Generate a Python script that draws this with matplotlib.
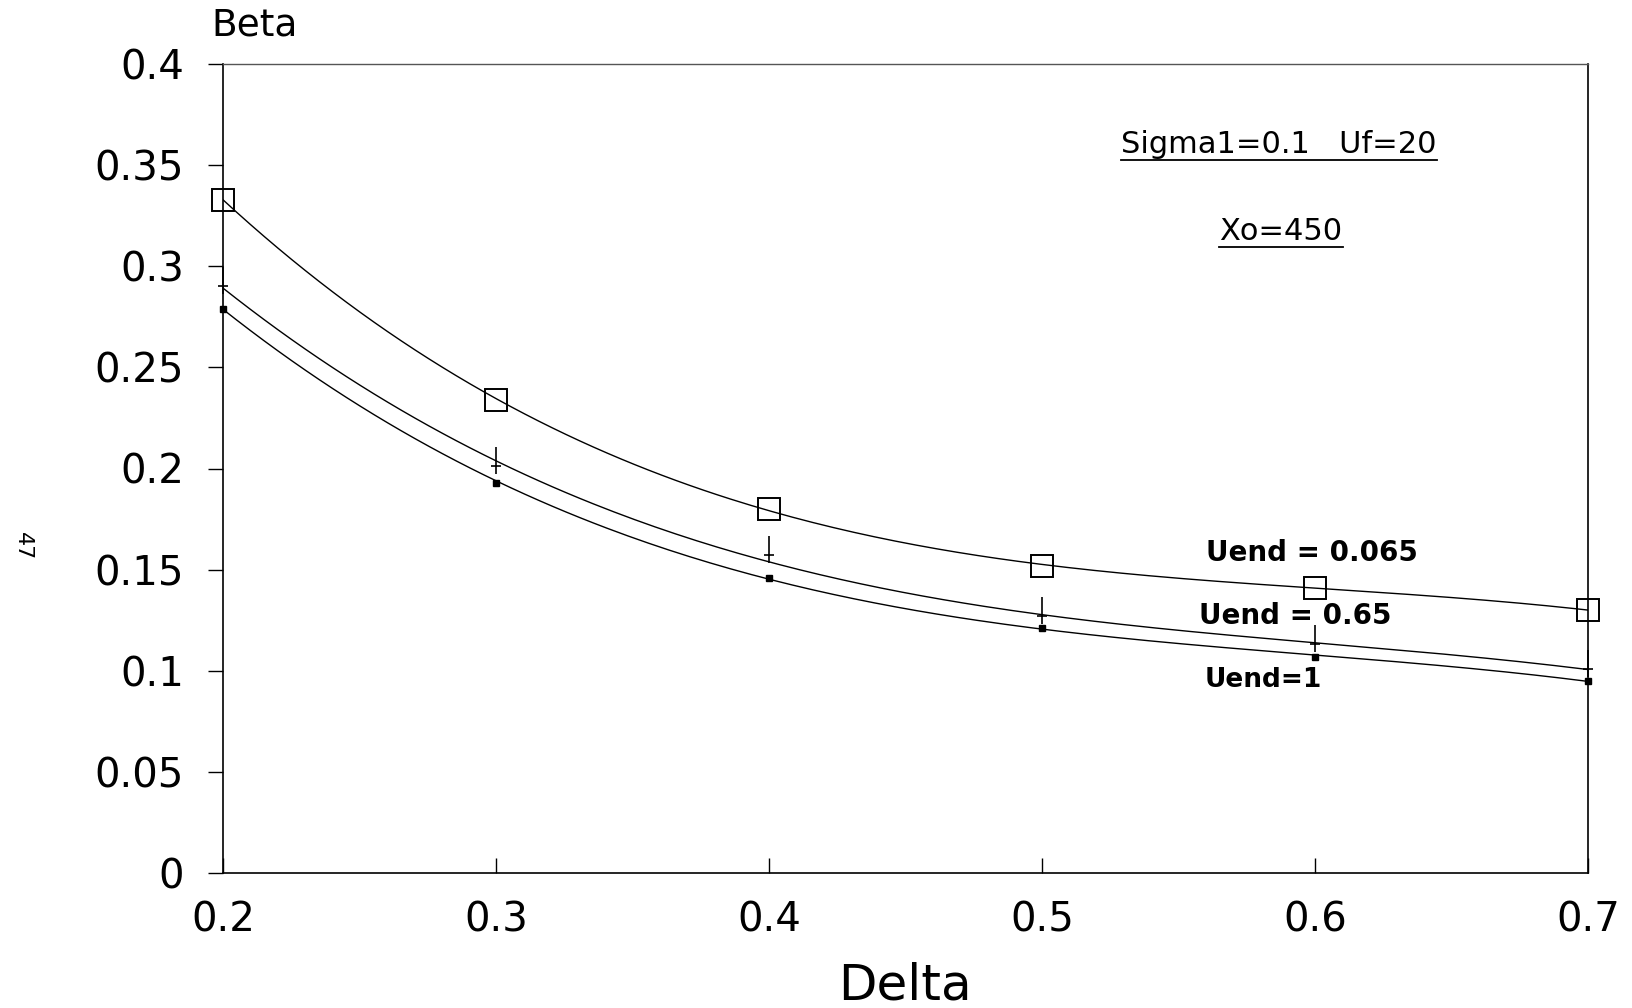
import numpy as np
import matplotlib
matplotlib.use("Agg")
import matplotlib.pyplot as plt
from matplotlib.path import Path
from matplotlib.lines import Line2D

plt.rcParams['font.family'] = ['DejaVu Sans']

# values
delta = [0.2, 0.3, 0.4, 0.5, 0.6, 0.7]
beta_u0065 = [0.333, 0.234, 0.180, 0.152, 0.141, 0.130]
beta_u065 = [0.290, 0.201, 0.157, 0.127, 0.113, 0.101]
beta_u1 = [0.279, 0.193, 0.146, 0.121, 0.107, 0.095]

x_ticks = [0.2, 0.3, 0.4, 0.5, 0.6, 0.7]
x_labels = ["0.2", "0.3", "0.4", "0.5", "0.6", "0.7"]
y_ticks = [0, 0.05, 0.1, 0.15, 0.2, 0.25, 0.3, 0.35, 0.4]
y_labels = ["0", "0.05", "0.1", "0.15", "0.2", "0.25", "0.3", "0.35", "0.4"]

# marker: short bar at the point with a long vertical stroke through it
tick_marker = Path([(0, -0.9), (0, 2.2), (-0.6, 0), (0.6, 0)],
                   [Path.MOVETO, Path.LINETO, Path.MOVETO, Path.LINETO])

fig = plt.figure(figsize=(16.32, 10.08), dpi=100)
ax = fig.add_axes([223 / 1632, 135 / 1008, 1365 / 1632, 809 / 1008])

# smooth fitted curves through each series
xs = np.linspace(0.2, 0.7, 200)
for ys in (beta_u0065, beta_u065, beta_u1):
    coef = np.polyfit(delta, ys, 3)
    ax.plot(xs, np.polyval(coef, xs), color="black", lw=1.0)

ax.plot(delta, beta_u0065, ls="none", marker="s", ms=16, mfc="none",
        mec="black", mew=1.4, clip_on=False)
ax.plot(delta, beta_u065, ls="none", marker=tick_marker, ms=28, mfc="none",
        mec="black", mew=1.2, clip_on=False)
ax.plot(delta, beta_u1, ls="none", marker="s", ms=4.5, color="black",
        clip_on=False)

ax.set_xlim(0.2, 0.7)
ax.set_ylim(0, 0.4)
ax.set_xticks(x_ticks)
ax.set_xticklabels(x_labels)
ax.set_yticks(y_ticks)
ax.set_yticklabels(y_labels)
ax.tick_params(axis="x", direction="in", length=11, width=1, labelsize=29, pad=20)
ax.tick_params(axis="y", direction="out", length=11, width=1, labelsize=29, pad=17)
for s in ("left", "bottom", "right"):
    ax.spines[s].set_linewidth(1.2)
ax.spines["top"].set_linewidth(1.0)
ax.spines["top"].set_color("#555555")

fig.text(905 / 1632, 1 - 986 / 1008, "Delta", fontsize=36, va="center", ha="center")
fig.text(211 / 1632, 1 - 26 / 1008, "Beta", fontsize=27, va="center", ha="left")
fig.text(23 / 1632, 1 - 546 / 1008, "47", fontsize=16, rotation=-90,
         va="center", ha="center")

t1 = ax.text(0.529, 0.360, "Sigma1=0.1   Uf=20", fontsize=22, va="center")
t2 = ax.text(0.565, 0.317, "Xo=450", fontsize=22, va="center")
ax.text(0.560, 0.158, "Uend = 0.065", fontsize=20, fontweight="bold", va="center")
ax.text(0.5575, 0.127, "Uend = 0.65", fontsize=20, fontweight="bold", va="center")
ax.text(0.5597, 0.0955, "Uend=1", fontsize=19, fontweight="bold", va="center")

# underline the two parameter labels
fig.canvas.draw()
r = fig.canvas.get_renderer()
for t in (t1, t2):
    bb = t.get_window_extent(r)
    y = (bb.y0 - 1) / fig.bbox.height
    fig.add_artist(Line2D([bb.x0 / fig.bbox.width, bb.x1 / fig.bbox.width], [y, y],
                          color="black", lw=1.3))

fig.savefig("out.png", dpi=100)
